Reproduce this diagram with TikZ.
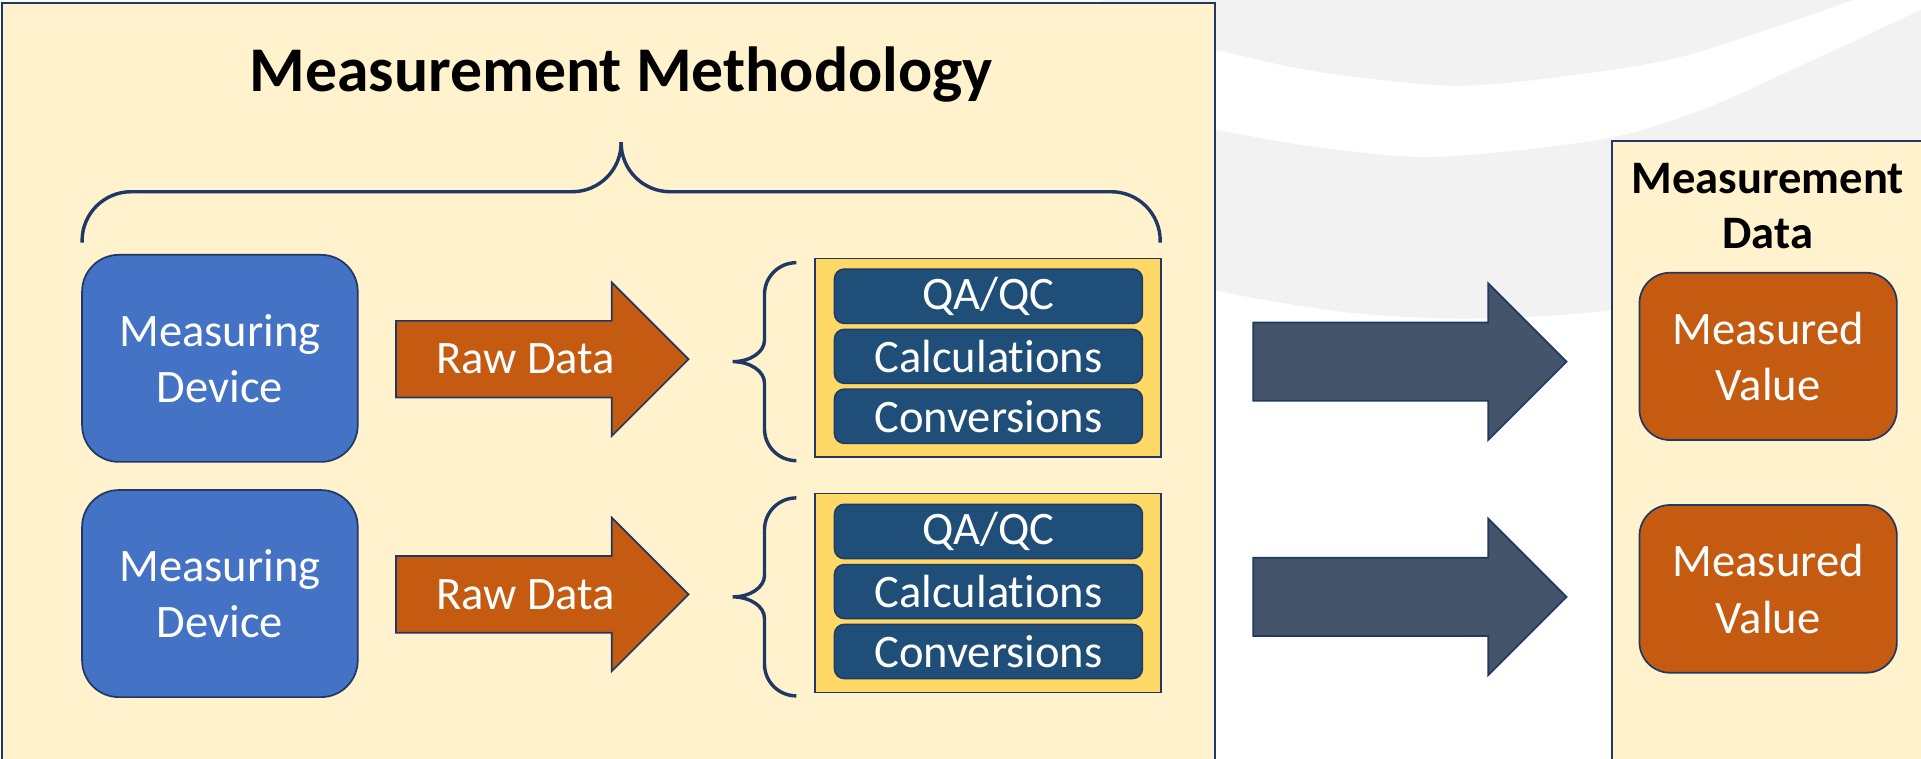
\documentclass[tikz,border=0pt]{standalone}
\usepackage{fontspec}
\setmainfont{Carlito}[Ligatures=NoCommon]
\usetikzlibrary{fit,shapes.arrows}

\definecolor{panelbg}{HTML}{FFF2CC}
\definecolor{navy}{HTML}{1F3864}
\definecolor{devblue}{HTML}{4472C4}
\definecolor{rust}{HTML}{C55A11}
\definecolor{gold}{HTML}{FFD966}
\definecolor{stepblue}{HTML}{1F4E79}
\definecolor{slate}{HTML}{44546A}
\definecolor{swoosh}{HTML}{F2F2F2}

\begin{document}
\begin{tikzpicture}[x=1pt, y=-1pt,
    panel/.style={draw=navy, line width=1.8pt, fill=panelbg, inner sep=0pt},
    devbox/.style={draw=navy, line width=1.4pt, fill=devblue, rounded corners=30pt, inner sep=0pt},
    valbox/.style={draw=navy, line width=1.4pt, fill=rust, rounded corners=25pt, inner sep=0pt},
    procbox/.style={draw=navy, line width=1.4pt, fill=gold, inner sep=0pt},
    stepbox/.style={draw=navy, line width=1.2pt, fill=stepblue, rounded corners=8pt, inner sep=0pt},
    txt/.style={text=white, font=\fontsize{38}{46}\selectfont, align=center, inner sep=0pt},
    rawarrow/.style={single arrow, draw=navy, line width=1.4pt, fill=rust, inner xsep=0pt, inner ysep=30.6pt,
        minimum height=238.7pt, single arrow head extend=31.3pt},
    outarrow/.style={single arrow, draw=navy, line width=1.4pt, fill=slate, inner xsep=0pt, inner ysep=31.2pt,
        minimum height=255.7pt, single arrow head extend=32pt},
    brace/.style={draw=navy, line width=2.8pt}]

    \useasboundingbox (0,0) rectangle (1568,619);
    \clip (0,0) rectangle (1568,619);
    \fill[white] (0,0) rectangle (1568,619);

    \fill[swoosh] (900,-40) -- plot[smooth] coordinates {(900,211) (992,237) (1100,255) (1200,260) (1316,253) (1450,226) (1600,171)} -- (1600,-40) -- cycle;
    \fill[white] plot[smooth] coordinates {(900,25) (992,41) (1075,58.5) (1191,70) (1306,58.5) (1374,46) (1442,24.5) (1513,0) (1580,-23)}
        -- plot[smooth] coordinates {(1620,-16) (1568,8) (1469,54) (1388,90) (1306,114) (1171,128) (1075,120) (992,106) (900,90)} -- cycle;

    \node[panel, fit={(1.6,2.2) (992,660)}] (mm) {};
    \node[font=\fontsize{52}{60}\selectfont\bfseries, anchor=base, inner sep=0pt] (mmtitle) at (507,75) {Measurement Methodology};

    \draw[brace, rounded corners=40pt] (67,198) -- (67,156.5) -- (507,156.5) -- (507,116);
    \draw[brace, rounded corners=40pt] (507,116) -- (507,156.5) -- (947,156.5) -- (947,198);

    \node[devbox, fit={(67,208) (292,377)}, label={[txt]center:{Measuring\\Device}}] (md1) {};
    \node[devbox, fit={(67,400) (292,569)}, label={[txt]center:{Measuring\\Device}}] (md2) {};

    \node[rawarrow, anchor=tip, label={[txt, xshift=2pt]center:{Raw Data}}] (raw1) at (563,293.2) {};
    \node[rawarrow, anchor=tip, label={[txt, xshift=2pt]center:{Raw Data}}] (raw2) at (563,485.2) {};

    \draw[brace] (650,214.4) .. controls (635.6,214.4) and (624,226) .. (624,240.4) -- (624,277.7)
        .. controls (624,287.4) and (612.4,295.2) .. (598,295.2)
        .. controls (612.4,295.2) and (624,303) .. (624,312.7) -- (624,350)
        .. controls (624,364.4) and (635.6,376) .. (650,376);
    \draw[brace] (650,406.4) .. controls (635.6,406.4) and (624,418) .. (624,432.4) -- (624,469.7)
        .. controls (624,479.4) and (612.4,487.2) .. (598,487.2)
        .. controls (612.4,487.2) and (624,495) .. (624,504.7) -- (624,542)
        .. controls (624,556.4) and (635.6,568) .. (650,568);

    \node[procbox, fit={(665.3,210.9) (947.8,373.3)}] (pg1) {};
    \node[stepbox, fit={(681.1,219.6) (932.5,264)}, label={[txt]center:{QA/QC}}] (qa1) {};
    \node[stepbox, fit={(681.1,268.8) (932.5,312.9)}, label={[txt]center:{Calculations}}] (calc1) {};
    \node[stepbox, fit={(681.1,317.6) (932.5,361.9)}, label={[txt]center:{Conversions}}] (conv1) {};

    \node[procbox, fit={(665.3,402.9) (947.8,565.3)}] (pg2) {};
    \node[stepbox, fit={(681.1,411.6) (932.5,456)}, label={[txt]center:{QA/QC}}] (qa2) {};
    \node[stepbox, fit={(681.1,460.8) (932.5,504.9)}, label={[txt]center:{Calculations}}] (calc2) {};
    \node[stepbox, fit={(681.1,509.6) (932.5,553.9)}, label={[txt]center:{Conversions}}] (conv2) {};

    \node[outarrow, anchor=tip] (out1) at (1279.7,295.2) {};
    \node[outarrow, anchor=tip] (out2) at (1279.7,487.2) {};

    \node[panel, fit={(1316,114.8) (1640,660)}] (mdp) {};
    \node[font=\fontsize{38}{45}\selectfont\bfseries, align=center, anchor=north, inner sep=0pt] (mdtitle) at (1443,132.8) {Measurement\\Data};

    \node[valbox, fit={(1338.2,222.6) (1548.3,359.2)}, label={[txt]center:{Measured\\Value}}] (mv1) {};
    \node[valbox, fit={(1338.2,412.2) (1548.3,549.1)}, label={[txt]center:{Measured\\Value}}] (mv2) {};
\end{tikzpicture}
\end{document}
